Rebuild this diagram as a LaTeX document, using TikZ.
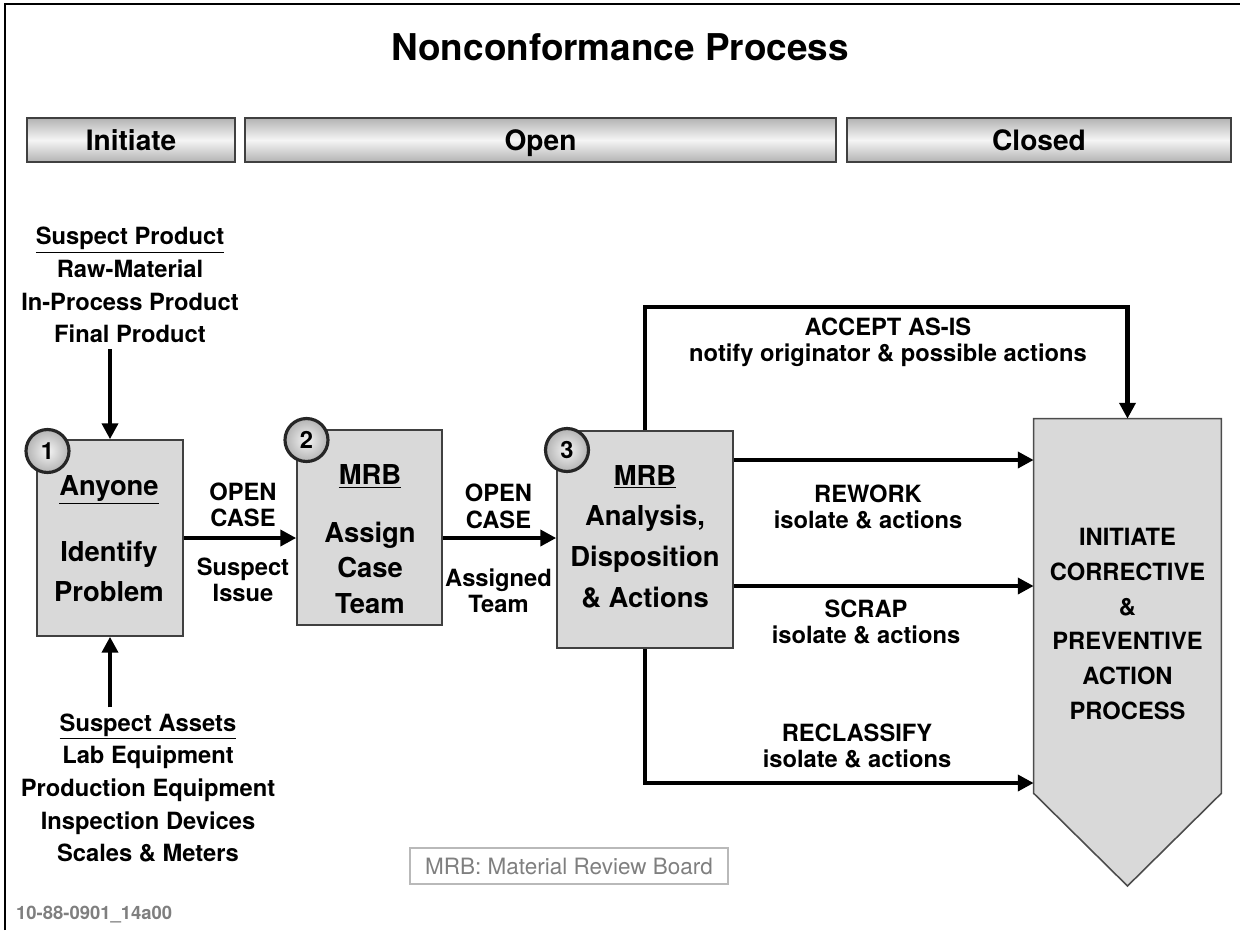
\documentclass[tikz,border=0pt]{standalone}
\usepackage{fontspec}
\setmainfont{TeX Gyre Heros}
\usetikzlibrary{arrows.meta,shadings}
\definecolor{boxgray}{HTML}{D9D9D9}
\definecolor{notegray}{HTML}{7F7F7F}

\tikzset{
  procbox/.style={rectangle, draw=black!75, line width=0.9pt, fill=boxgray},
  phasebar/.style={rectangle, draw=black!75, line width=1.1pt,
    top color=gray!60, bottom color=gray!60, middle color=gray!8,
    text height=11.5pt, text depth=0pt,
    font=\bfseries\fontsize{16}{19}\selectfont},
  numdisc/.style={circle, draw=black!85, line width=1.8pt, inner color=gray!8,
    outer color=gray!60, minimum size=0.86cm, inner sep=0pt,
    font=\bfseries\fontsize{13.5}{15}\selectfont},
  flow/.style={line width=2.4pt, -{Triangle[length=9pt,width=9pt]}},
  boxtext/.style={align=center, font=\bfseries\fontsize{15.6}{22.5}\selectfont},
  lbl/.style={align=center, font=\bfseries\fontsize{13.5}{15}\selectfont},
  listtext/.style={align=center, font=\bfseries\fontsize{13.5}{18.6}\selectfont},
}

\begin{document}
\begin{tikzpicture}[x=0.02cm, y=-0.02cm]
    \useasboundingbox (0,0) rectangle (1240,930);
    % frame
    \draw[line width=1.7pt] (5,930) -- (5,4) -- (1240,4);
    \node(title) [font=\bfseries\fontsize{21}{25}\selectfont] at (620,47) {Nonconformance Process};

    % phases
    \node(ph1) [phasebar, minimum width=4.16cm, minimum height=0.88cm] at (131,140) {Initiate};
    \node(ph2) [phasebar, minimum width=11.82cm, minimum height=0.88cm] at (540.5,140) {Open};
    \node(ph3) [phasebar, minimum width=7.68cm, minimum height=0.88cm] at (1039,140) {Closed};

    % process boxes
    \node(box1) [procbox, minimum width=2.92cm, minimum height=3.92cm] at (110,538) {};
    \node(box2) [procbox, minimum width=2.9cm, minimum height=3.9cm] at (369.5,527.5) {};
    \node(box3) [procbox, minimum width=3.52cm, minimum height=4.34cm] at (645,539.5) {};
    \node(t1) [boxtext] at (109,538.5) {\underline{Anyone}\\[15.5pt]Identify\\Problem};
    \node(t2) [boxtext, font=\bfseries\fontsize{15.6}{20}\selectfont] at (370,539) {\underline{MRB}\\[13pt]Assign\\Case\\Team};
    \node(t3) [boxtext, font=\bfseries\fontsize{15.6}{23.2}\selectfont] at (645,536.5) {\underline{MRB}\\Analysis,\\Disposition\\\& Actions};
    \node(n1) [numdisc] at (47.5,451) {1};
    \node(n2) [numdisc] at (306.5,440) {2};
    \node(n3) [numdisc] at (567,450) {3};

    % CAPA chevron
    \node(capa) [minimum width=3.74cm, minimum height=7.48cm] at (1127.5,606) {};
    \coordinate (tip) at (1127.5,886);
    \draw[fill=boxgray, draw=black!70, line width=0.9pt] (capa.north west) -- (capa.north east)
        -- (capa.south east) -- (tip) -- (capa.south west) -- cycle;
    \node(capatext) [align=center, font=\bfseries\fontsize{13.5}{19.8}\selectfont] at (1127.5,624)
        {INITIATE\\CORRECTIVE\\\&\\PREVENTIVE\\ACTION\\PROCESS};

    % inputs
    \node(prod) [listtext] at (130,285) {\underline{Suspect Product}\\Raw-Material\\In-Process Product\\Final Product};
    \node(assets) [listtext] at (148,788) {\underline{Suspect Assets}\\Lab Equipment\\Production Equipment\\Inspection Devices\\Scales \& Meters};
    \draw[flow] (box1.north |- prod.south) -- (box1.north);
    \draw[flow] (box1.south |- assets.north) -- (box1.south);

    % case flow
    \draw[flow] (box1.east) -- (box1.east -| box2.west);
    \draw[flow] (box2.east |- box1.east) -- (box3.west |- box1.east);
    \node(oc1) [lbl] at (243,505) {OPEN\\CASE};
    \node(si) [lbl] at (243,579.5) {Suspect\\Issue};
    \node(oc2) [lbl] at (498.5,506.5) {OPEN\\CASE};
    \node(at) [lbl] at (498.5,591) {Assigned\\Team};

    % dispositions
    \coordinate (acc) at (0,307);
    \coordinate (rw) at (0,460);
    \coordinate (sc) at (0,586);
    \coordinate (rc) at (0,783);
    \draw[flow] (box3.north) -- (box3.north |- acc) -| (capa.north);
    \draw[flow] (box3.east |- rw) -- (capa.west |- rw);
    \draw[flow] (box3.east |- sc) -- (capa.west |- sc);
    \draw[flow] (box3.south) |- (capa.west |- rc);
    \node(accl) [lbl] at (888,342) {ACCEPT AS-IS\\notify originator \& possible actions};
    \node(rwl) [lbl] at (868,507) {REWORK\\isolate \& actions};
    \node(scl) [lbl] at (866,622) {SCRAP\\isolate \& actions};
    \node(rcl) [lbl] at (857,746) {RECLASSIFY\\isolate \& actions};

    % notes
    \node(legend) [draw=gray!55, line width=0.8pt, text=notegray, minimum width=6.36cm,
        minimum height=0.72cm, font=\fontsize{12.8}{15}\selectfont] at (569,866) {MRB: Material Review Board};
    \node(docid) [anchor=west, text=notegray, font=\bfseries\fontsize{10.5}{12}\selectfont] at (10,915) {10-88-0901\_14a00};
\end{tikzpicture}
\end{document}
